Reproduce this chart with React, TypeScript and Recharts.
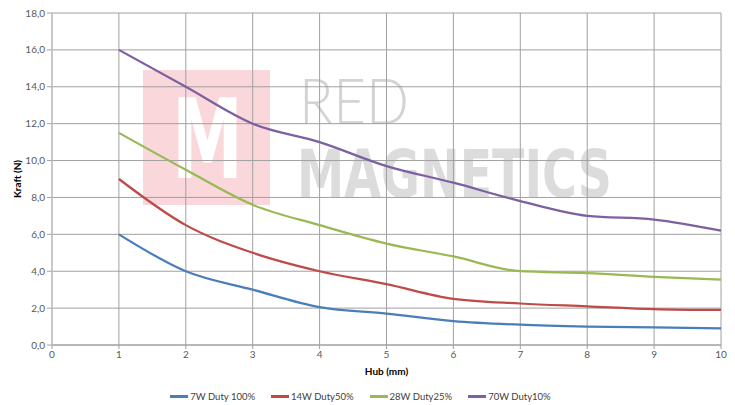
import { LineChart, Line, XAxis, YAxis, CartesianGrid, Legend } from "recharts";

const hub = [1, 2, 3, 4, 5, 6, 7, 8, 9, 10];
const duty100 = [6.0, 4.0, 3.0, 2.05, 1.7, 1.3, 1.1, 1.0, 0.95, 0.9];
const duty50 = [9.0, 6.5, 5.0, 4.0, 3.3, 2.5, 2.25, 2.1, 1.95, 1.9];
const duty25 = [11.5, 9.5, 7.6, 6.5, 5.5, 4.8, 4.0, 3.9, 3.7, 3.55];
const duty10 = [16.0, 14.0, 12.0, 11.0, 9.7, 8.8, 7.8, 7.0, 6.8, 6.2];

const xTicks = [0, 1, 2, 3, 4, 5, 6, 7, 8, 9, 10];
const yTicks = [0, 2, 4, 6, 8, 10, 12, 14, 16, 18];

const series = [
  { key: "d100", name: "7W Duty 100%", color: "#4a7ebb", values: duty100 },
  { key: "d50", name: "14W Duty50%", color: "#be4b48", values: duty50 },
  { key: "d25", name: "28W Duty25%", color: "#98b954", values: duty25 },
  { key: "d10", name: "70W Duty10%", color: "#7d60a0", values: duty10 },
];

const data = hub.map((x, i) => {
  const row: Record<string, number> = { x };
  series.forEach((s) => (row[s.key] = s.values[i]));
  return row;
});

const FONT = "Lato, 'Open Sans', sans-serif";
const BOLD = "'DejaVu Sans', sans-serif";

// Red Magnetics logo sitting behind the plot
function Watermark() {
  return (
    <svg width={735} height={405} style={{ position: "absolute", left: 0, top: 0 }}>
      <rect x={143} y={70} width={127} height={135} fill="#f9d7db" />
      <text x={172} y={178} fill="#ffffff" fontFamily={BOLD} fontWeight="bold" fontSize={110} textLength={71} lengthAdjust="spacingAndGlyphs">
        M
      </text>
      <text x={299} y={124} fill="#d3d3d3" fontFamily={FONT} fontWeight={300} fontSize={64} textLength={110} lengthAdjust="spacingAndGlyphs">
        RED
      </text>
      <text x={297} y={197} fill="#dcdcdc" fontFamily={BOLD} fontWeight="bold" fontSize={66} textLength={315} lengthAdjust="spacingAndGlyphs">
        MAGNETICS
      </text>
    </svg>
  );
}

const renderLegend = () => (
  <div style={{ display: "flex", justifyContent: "center", gap: 16, paddingTop: 11, paddingLeft: 0, fontFamily: FONT, fontSize: 9.5, color: "#404040" }}>
    {series.map((s) => (
      <div key={s.key} style={{ display: "flex", alignItems: "center" }}>
        <span style={{ display: "inline-block", width: 18, height: 2.5, background: s.color, marginRight: 2 }} />
        <span>{s.name}</span>
      </div>
    ))}
  </div>
);

export default function App() {
  return (
    <div style={{ position: "absolute", left: 0, top: 0, width: 735, height: 405, background: "#fff" }}>
      <Watermark />
      <div style={{ position: "absolute", left: 0, top: 0 }}>
        <LineChart width={735} height={405} data={data} margin={{ top: 13, right: 14, left: 0, bottom: 0 }}>
          <CartesianGrid stroke="#a0a0a0" strokeWidth={1} />
          <XAxis
            type="number"
            dataKey="x"
            domain={[0, 10]}
            ticks={xTicks}
            height={35}
            stroke="#a0a0a0"
            tickSize={4}
            tick={{ fontSize: 10, fill: "#595959", fontFamily: FONT }}
            label={{ value: "Hub (mm)", position: "insideBottom", offset: 5, style: { fontSize: 10, fontWeight: "bold", fill: "#000", fontFamily: FONT } }}
          />
          <YAxis
            type="number"
            domain={[0, 18]}
            ticks={yTicks}
            width={52}
            stroke="#c8c8c8"
            strokeWidth={2}
            tickSize={5}
            tickLine={{ stroke: "#a0a0a0", strokeWidth: 1 }}
            tickFormatter={(v: number) => v.toFixed(1).replace(".", ",")}
            tick={{ fontSize: 10, fill: "#595959", fontFamily: FONT }}
            label={{ value: "Kraft (N)", angle: -90, position: "insideLeft", offset: 17, style: { fontSize: 10, fontWeight: "bold", fill: "#000", fontFamily: FONT, textAnchor: "middle" } }}
          />
          <Legend verticalAlign="bottom" height={25} content={renderLegend} />
          {series.map((s) => (
            <Line
              key={s.key}
              type="monotone"
              dataKey={s.key}
              name={s.name}
              stroke={s.color}
              strokeWidth={2.25}
              dot={false}
              activeDot={false}
              isAnimationActive={false}
            />
          ))}
        </LineChart>
      </div>
    </div>
  );
}
